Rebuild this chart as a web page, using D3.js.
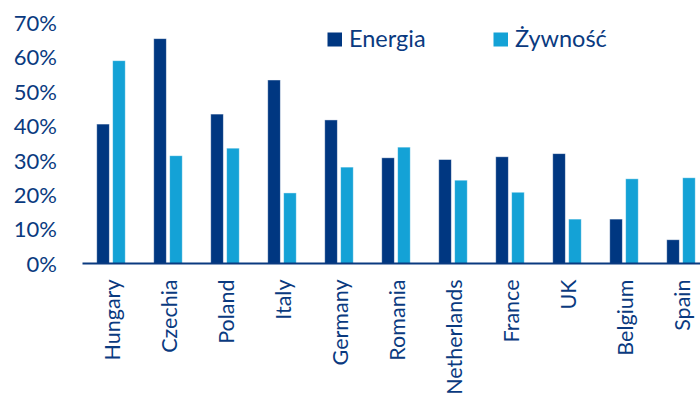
<!DOCTYPE html>
<html>
<head>
<meta charset="utf-8">
<script src="https://cdn.jsdelivr.net/npm/d3@7"></script>
<style>
  html, body { margin: 0; padding: 0; background: #fff; }
  svg { display: block; }
  text { font-family: Lato, "Open Sans", sans-serif; fill: #0a3a80; }
</style>
</head>
<body>
<svg id="chart" width="700" height="397"></svg>
<script>
// Share of households hit by price rises, by country
const countries = ["Hungary", "Czechia", "Poland", "Italy", "Germany", "Romania",
                   "Netherlands", "France", "UK", "Belgium", "Spain"];
const seriesNames = ["Energia", "Żywność"];
const energia = [40.5, 65.3, 43.4, 53.3, 41.7, 30.7, 30.2, 31.0, 31.9, 12.9, 6.9];
const zywnosc = [58.9, 31.3, 33.5, 20.5, 28.0, 33.8, 24.2, 20.7, 12.9, 24.6, 24.9];
const yTicks = [0, 10, 20, 30, 40, 50, 60, 70];

const colors = { "Energia": "#003781", "Żywność": "#14a2d6" };
const textColor = "#0a3a80";

const svg = d3.select("#chart");
const W = 700, H = 397;
const plot = { left: 82.5, right: 709.5, top: 22.5, bottom: 263.5 };

const rows = countries.map((c, i) => ({
  country: c,
  values: [
    { key: "Energia", value: energia[i] },
    { key: "Żywność", value: zywnosc[i] }
  ]
}));

const x0 = d3.scaleBand()
  .domain(countries)
  .range([plot.left, plot.right])
  .paddingInner(0.5)
  .paddingOuter(0.25);

const x1 = d3.scaleBand()
  .domain(seriesNames)
  .range([0, x0.bandwidth()])
  .paddingInner(0.21);

const y = d3.scaleLinear()
  .domain([0, 70])
  .range([plot.bottom, plot.top]);

// bars
const groups = svg.append("g")
  .selectAll("g")
  .data(rows)
  .join("g")
  .attr("transform", d => `translate(${x0(d.country)},0)`);

groups.selectAll("rect")
  .data(d => d.values)
  .join("rect")
  .attr("x", d => x1(d.key))
  .attr("width", x1.bandwidth())
  .attr("y", d => y(d.value))
  .attr("height", d => y(0) - y(d.value))
  .attr("fill", d => colors[d.key])
  .attr("stroke", "#ffffff")
  .attr("stroke-opacity", 0.55)
  .attr("stroke-width", 0.8);

// value axis: labels only
const yAxis = svg.append("g")
  .attr("transform", "translate(57,0)")
  .call(d3.axisLeft(y).tickValues(yTicks).tickFormat(d => d + "%").tickSize(0).tickPadding(0));
yAxis.select(".domain").remove();
yAxis.selectAll("text")
  .attr("fill", textColor)
  .style("font-size", "22px")
  .attr("dy", "0.36em");

// category axis
svg.append("line")
  .attr("x1", plot.left)
  .attr("x2", W)
  .attr("y1", y(0))
  .attr("y2", y(0))
  .attr("stroke", "#0a3a80")
  .attr("stroke-width", 2);

const xAxis = svg.append("g")
  .attr("transform", `translate(0,${y(0)})`)
  .call(d3.axisBottom(x0).tickSize(0).tickPadding(0));
xAxis.select(".domain").remove();
xAxis.selectAll("text")
  .attr("fill", textColor)
  .style("font-size", "21.5px")
  .attr("text-anchor", "end")
  .attr("transform", "translate(1.5,16) rotate(-90)")
  .attr("x", 0)
  .attr("y", 0)
  .attr("dy", "0.36em");

// legend
const legendItems = [
  { key: "Energia", x: 327.5 },
  { key: "Żywność", x: 493.5 }
];
const legend = svg.append("g");
const li = legend.selectAll("g")
  .data(legendItems)
  .join("g")
  .attr("transform", d => `translate(${d.x},32.5)`);
li.append("rect")
  .attr("width", 14.5)
  .attr("height", 14)
  .attr("fill", d => colors[d.key]);
li.append("text")
  .attr("x", 21.5)
  .attr("y", 14)
  .style("font-size", "23.5px")
  .attr("fill", textColor)
  .text(d => d.key);
</script>
</body>
</html>
